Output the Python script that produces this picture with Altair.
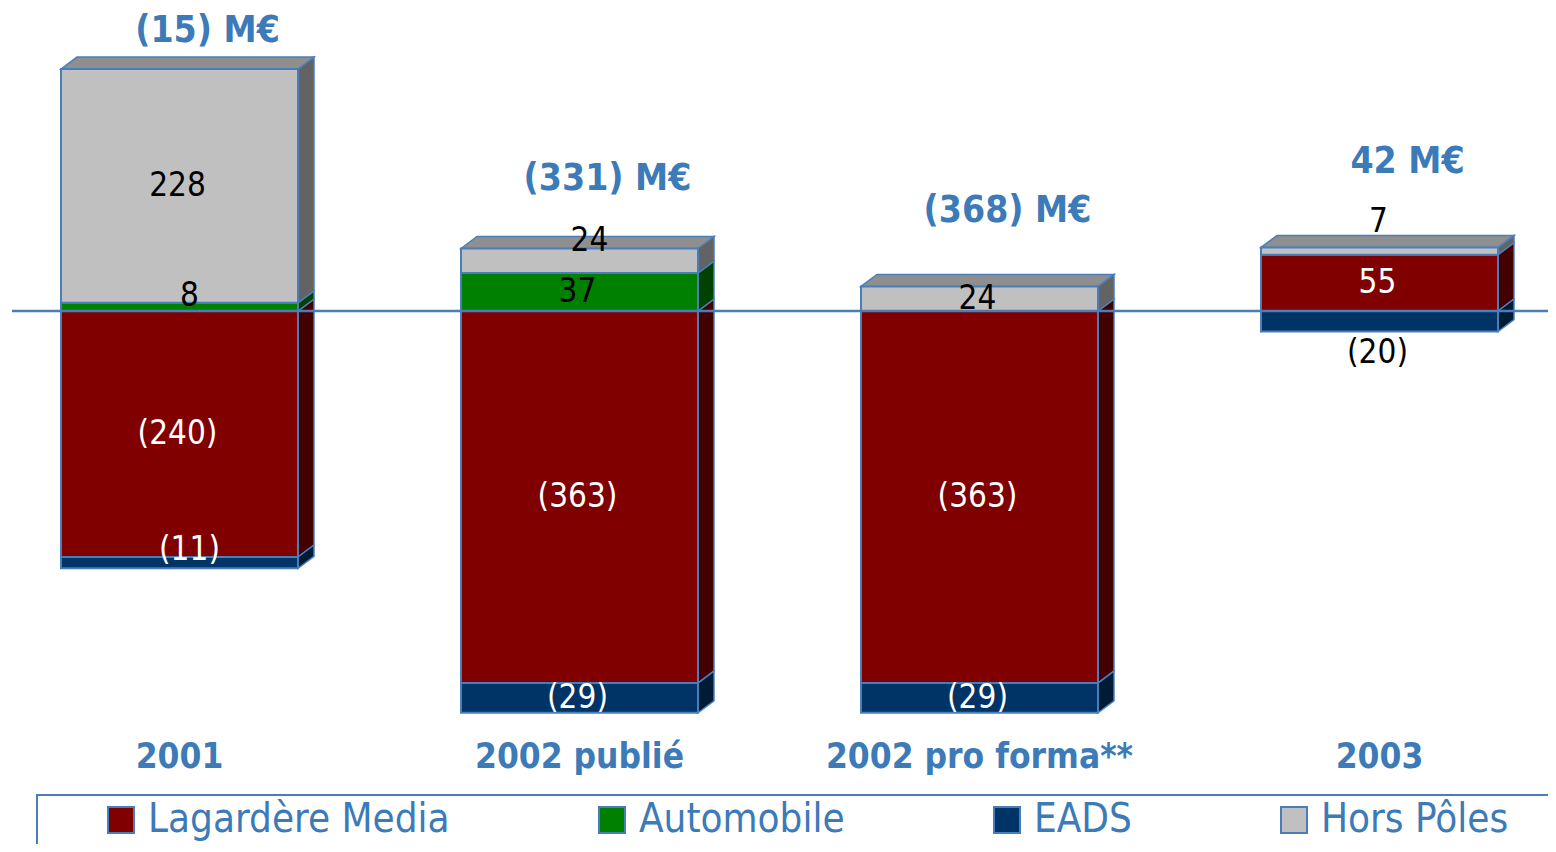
import altair as alt
import pandas as pd

# ---------------- data ----------------
categories = ["2001", "2002 publié", "2002 pro forma**", "2003"]
series = ["Lagardère Media", "Automobile", "EADS", "Hors Pôles"]
lagardere_media = [-240, -363, -363, 55]
automobile = [8, 37, 0, 0]
eads = [-11, -29, -29, -20]
hors_poles = [228, 24, 24, 7]
total_labels = ["(15) M€", "(331) M€", "(368) M€", "42 M€"]
total_label_level = [273, 129, 98, 145]
# where each segment's value label sits
place_lm = ["mid", "mid", "mid", "mid"]
place_auto = ["edge", "mid", "mid", "mid"]
place_eads = ["edge", "mid", "mid", "below"]
place_hp = ["mid", "edge", "mid", "above"]

# ---------------- style ----------------
front_colors = ["#800000", "#008000", "#003366", "#C0C0C0"]
side_colors = ["#420000", "#004200", "#001b36", "#636363"]
top_colors = ["#5a0000", "#005a00", "#00264d", "#8f8f8f"]
EDGE = "#4a7ebb"
BLUE = "#3d7ab8"
FONT = "DejaVu Sans Condensed, DejaVu Sans, sans-serif"

W, H = 1540, 836
PX_PER_UNIT = 1.025
ZERO_PX = 303
SLOT_PX = 400
FIRST_CENTER_PX = 171.5
HALF_W = 118.5 / SLOT_PX
DX = 16 / SLOT_PX
DY = 12 / PX_PER_UNIT

x_scale = alt.Scale(domain=[-FIRST_CENTER_PX / SLOT_PX, (W - FIRST_CENTER_PX) / SLOT_PX], nice=False, zero=False)
y_scale = alt.Scale(domain=[-(H - ZERO_PX) / PX_PER_UNIT, ZERO_PX / PX_PER_UNIT], nice=False, zero=False)

values = [lagardere_media, automobile, eads, hors_poles]
places = [place_lm, place_auto, place_eads, place_hp]
label_shift_px = {"mid": 0, "edge": 7, "above": 25, "below": -21}
label_dx_px = {"mid": -2, "edge": 10, "above": -1, "below": -2}

fronts, sides, tops, labels = [], [], [], []
seg = 0
for i, cat in enumerate(categories):
    pos, neg = 0.0, 0.0
    top_series = None
    xl, xr = i - HALF_W, i + HALF_W
    for s_idx, s in enumerate(series):
        v = values[s_idx][i]
        if v == 0:
            continue
        if v > 0:
            y0, y1 = pos, pos + v
            pos = y1
            top_series = s_idx
        else:
            y0, y1 = neg, neg + v
            neg = y1
        lo, hi = min(y0, y1), max(y0, y1)
        fronts.append(dict(cat=cat, series=s, xl=xl, xr=xr, lo=lo, hi=hi))
        sides.append(dict(seg=seg, x=xr, lo=lo, hi=hi, color=side_colors[s_idx]))
        sides.append(dict(seg=seg, x=xr + DX, lo=lo + DY, hi=hi + DY, color=side_colors[s_idx]))
        seg += 1
        pl = places[s_idx][i]
        if pl == "mid":
            anchor = (lo + hi) / 2
        elif pl in ("edge", "above"):
            anchor = hi
        else:
            anchor = lo
        anchor += label_shift_px[pl] / PX_PER_UNIT
        txt = f"({abs(v)})" if v < 0 else str(v)
        dark = s in ("Lagardère Media", "EADS") and pl in ("mid", "edge")
        labels.append(dict(x=i + label_dx_px[pl] / SLOT_PX, y=anchor, text=txt,
                           color="white" if dark else "black"))
    ytop = pos
    tc = top_colors[top_series]
    for xx, hi_, lo_ in [(xl, ytop, ytop), (xl + DX, ytop + DY, ytop), (xr, ytop + DY, ytop),
                         (xr + DX, ytop + DY, ytop + DY)]:
        tops.append(dict(bar=i, x=xx, lo=lo_, hi=hi_, color=tc))

df_front = pd.DataFrame(fronts)
df_side = pd.DataFrame(sides)
df_top = pd.DataFrame(tops)
df_lab = pd.DataFrame(labels)
df_tot = pd.DataFrame(dict(x=[i + 28 / SLOT_PX for i in range(len(categories))], y=total_label_level,
                           text=total_labels))
df_cat = pd.DataFrame(dict(x=list(range(len(categories))), text=categories))

X = lambda f: alt.X(f, type="quantitative", scale=x_scale, axis=None)
Y = lambda f: alt.Y(f, type="quantitative", scale=y_scale, axis=None)

side_layer = alt.Chart(df_side).mark_area(stroke=EDGE, strokeWidth=1.5, opacity=1).encode(
    x=X("x"), y=Y("hi"), y2="lo", detail="seg:N", fill=alt.Fill("color:N", scale=None)
)
top_layer = alt.Chart(df_top).mark_area(stroke=EDGE, strokeWidth=1.5, opacity=1).encode(
    x=X("x"), y=Y("hi"), y2="lo", detail="bar:N", fill=alt.Fill("color:N", scale=None)
)
front_layer = alt.Chart(df_front).mark_rect(stroke=EDGE, strokeWidth=2, opacity=1).encode(
    x=X("xl"), x2="xr", y=Y("hi"), y2="lo",
    color=alt.Color("series:N", scale=alt.Scale(domain=series, range=front_colors),
                    legend=alt.Legend(orient="none", legendX=93, legendY=792, direction="horizontal",
                                      title=None, symbolType="square", symbolSize=676,
                                      symbolStrokeColor=EDGE, symbolStrokeWidth=2, symbolOpacity=1,
                                      labelFont=FONT, labelFontSize=40, labelColor=BLUE,
                                      labelOffset=7, columnPadding=142, padding=0, labelLimit=0)),
)
zero_layer = alt.Chart(pd.DataFrame(dict(zero=[0]))).mark_rule(color=EDGE, strokeWidth=2.5).encode(
    y=Y("zero"), x=alt.value(4), x2=alt.value(W)
)
label_layer = alt.Chart(df_lab).mark_text(font=FONT, fontSize=33, baseline="middle", align="center").encode(
    x=X("x"), y=Y("y"), text="text:N", color=alt.Color("color:N", scale=None)
)
total_layer = alt.Chart(df_tot).mark_text(font=FONT, fontSize=37, fontWeight="bold", color=BLUE,
                                          baseline="middle", align="center").encode(
    x=X("x"), y=Y("y"), text="text:N"
)
cat_layer = alt.Chart(df_cat).mark_text(font=FONT, fontSize=35, fontWeight="bold", color=BLUE,
                                        baseline="middle", align="center").encode(
    x=X("x"), y=alt.value(749), text="text:N"
)
box_layer = alt.Chart(pd.DataFrame(dict(a=[0]))).mark_rect(fillOpacity=0, stroke=EDGE, strokeWidth=2).encode(
    x=alt.value(29), x2=alt.value(W + 20), y=alt.value(787), y2=alt.value(H + 40)
)

chart = alt.layer(
    side_layer, top_layer, front_layer, zero_layer, label_layer, total_layer, cat_layer, box_layer
).properties(
    width=W, height=H, padding=0, autosize=alt.AutoSizeParams(type="none"), background="white"
).configure_view(stroke=None)

chart.save("out.html", embed_options={"renderer": "svg", "actions": False})
